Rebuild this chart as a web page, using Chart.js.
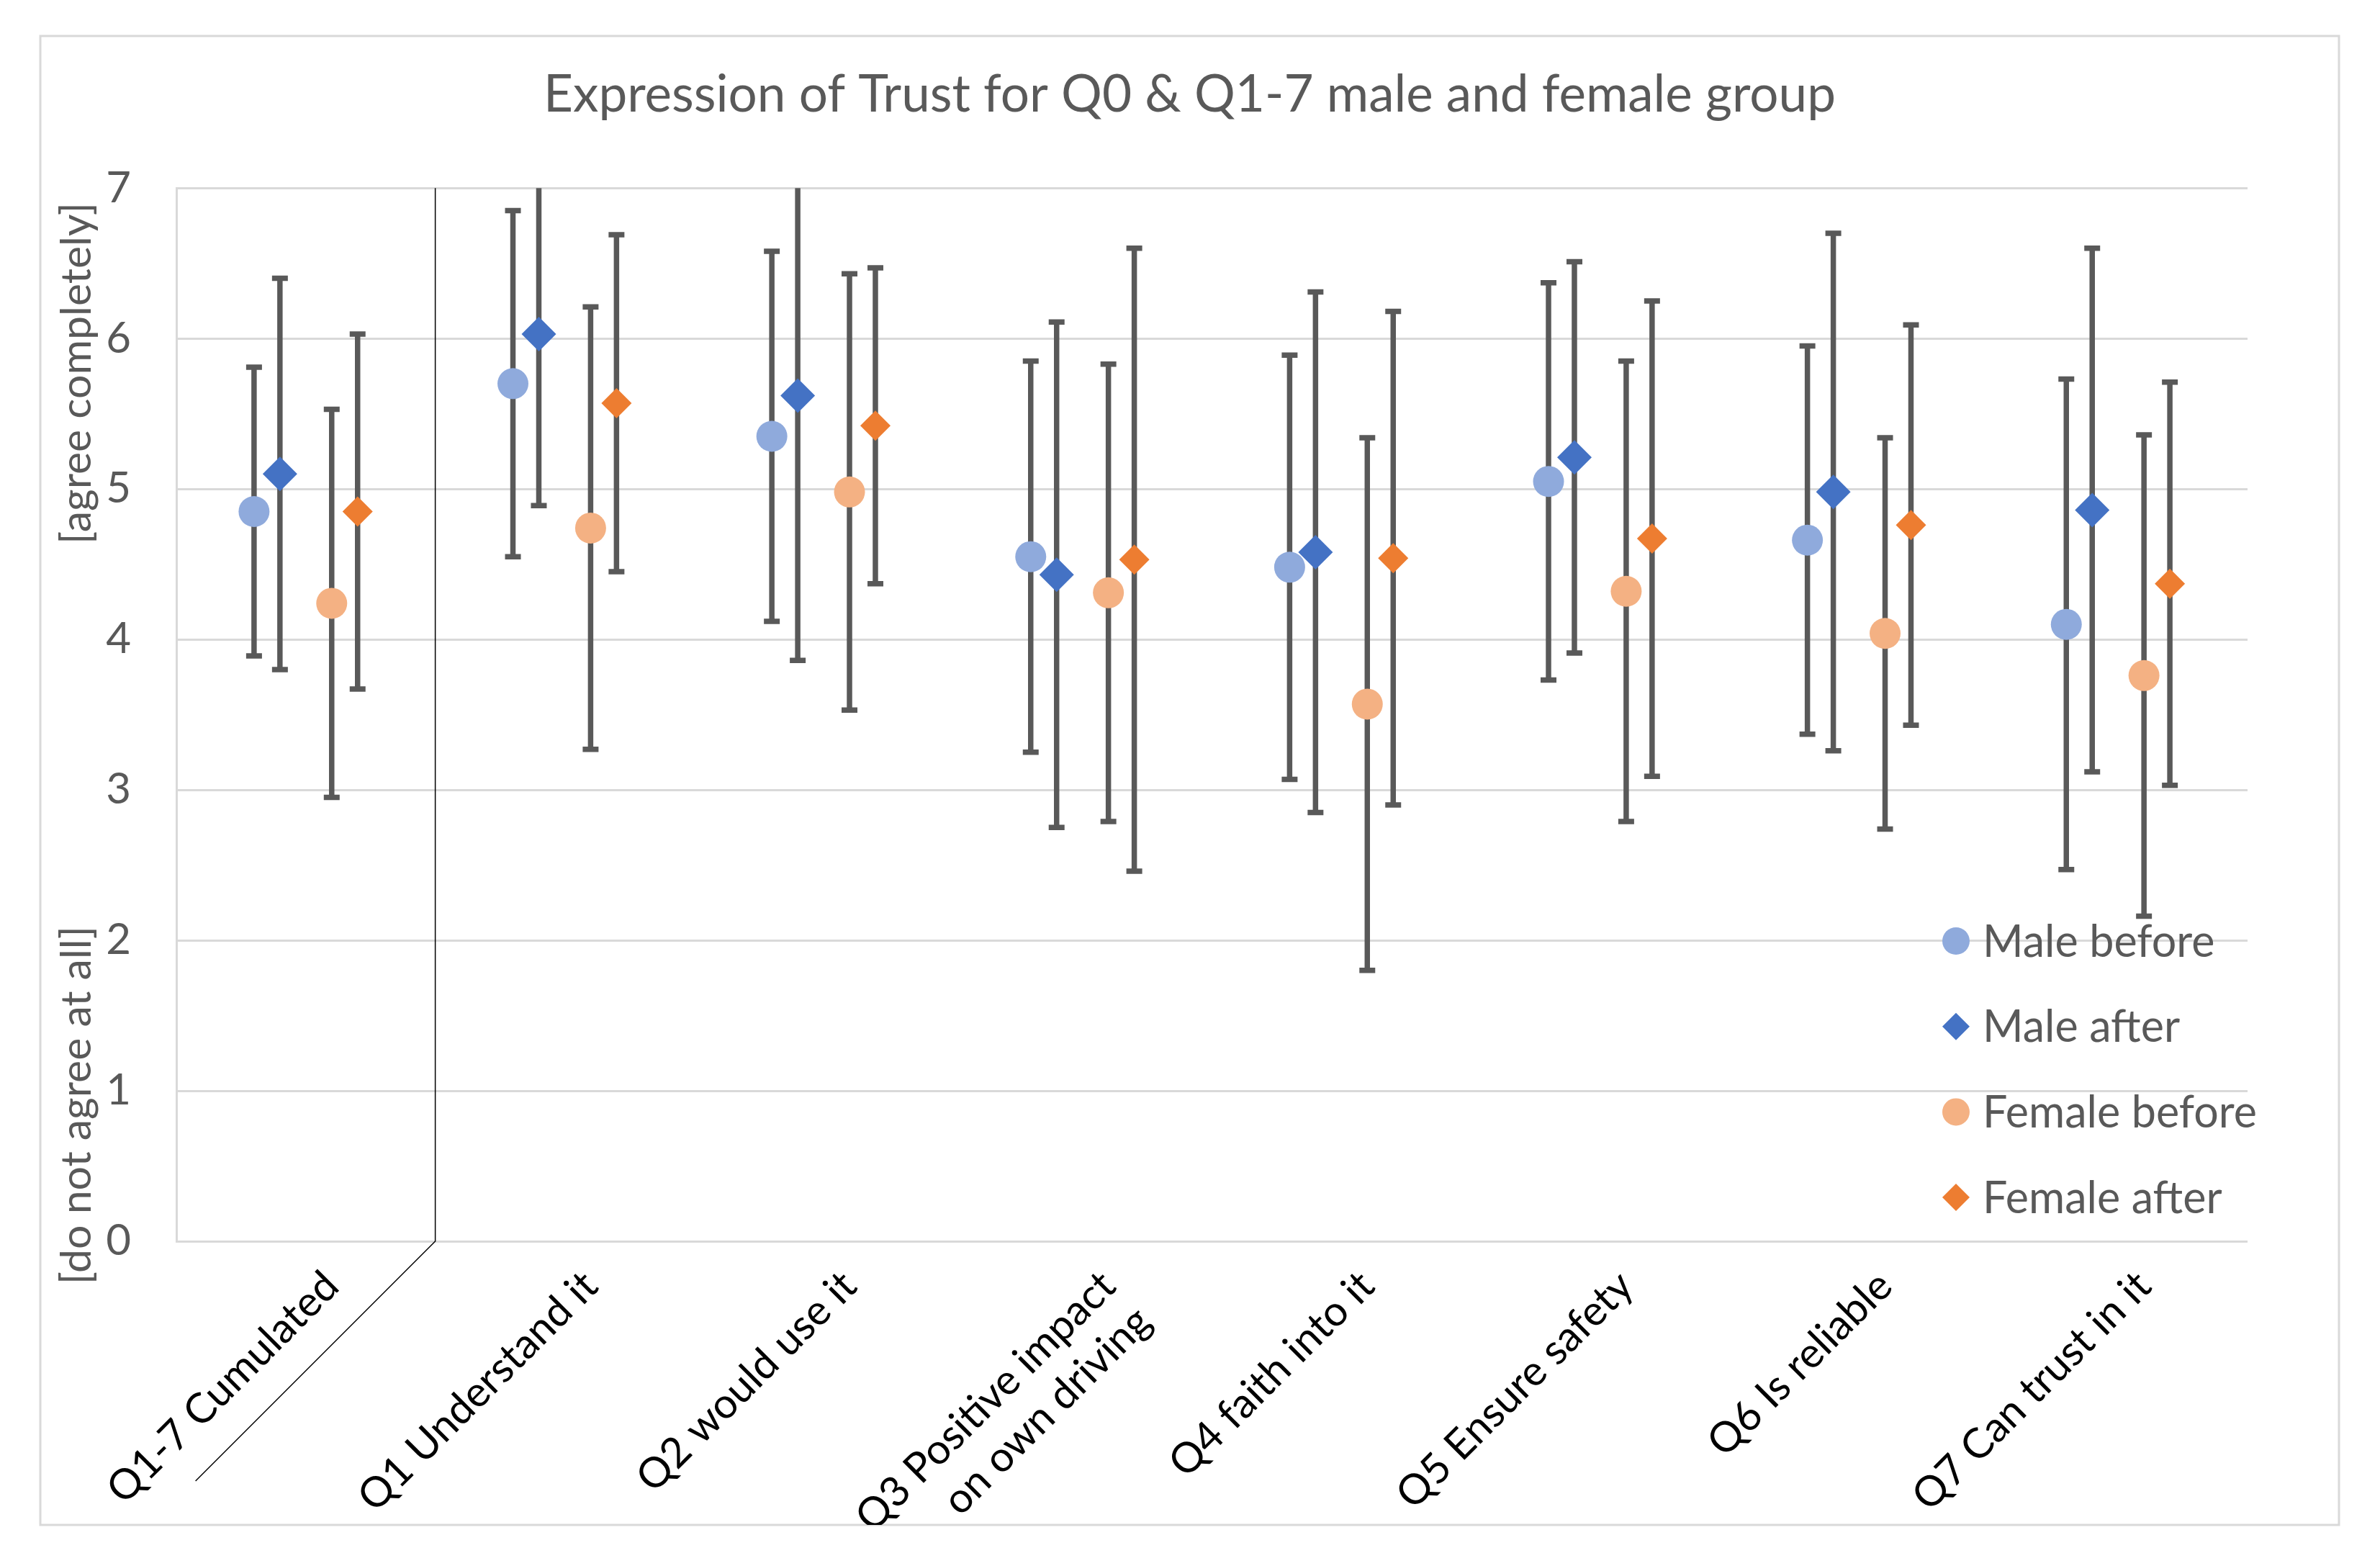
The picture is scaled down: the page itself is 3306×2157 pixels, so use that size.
<!DOCTYPE html>
<html>
<head>
<meta charset="utf-8">
<script src="https://cdn.jsdelivr.net/npm/chart.js@4.4.1/dist/chart.umd.min.js"></script>
<style>
  html, body { margin: 0; padding: 0; background: #ffffff; }
  #wrap { width: 3306px; height: 2157px; position: relative; }
</style>
</head>
<body>
<div id="wrap"><canvas id="trustChart"></canvas></div>
<script>
// Kategorien (Fragen) auf der x-Achse
const questions = [
  'Q1-7 Cumulated',
  'Q1 Understand it',
  'Q2 would use it',
  ['Q3 Positive impact', 'on own driving'],
  'Q4 faith into it',
  'Q5 Ensure safety',
  'Q6 Is reliable',
  'Q7 Can trust in it'
];

// Mittelwerte und Standardabweichungen je Gruppe
const maleBefore     = [4.85, 5.70, 5.35, 4.55, 4.48, 5.05, 4.66, 4.10];
const maleBeforeSd   = [0.96, 1.15, 1.23, 1.30, 1.41, 1.32, 1.29, 1.63];
const maleAfter      = [5.10, 6.03, 5.62, 4.43, 4.58, 5.21, 4.98, 4.86];
const maleAfterSd    = [1.30, 1.14, 1.76, 1.68, 1.73, 1.30, 1.72, 1.74];
const femaleBefore   = [4.24, 4.74, 4.98, 4.31, 3.57, 4.32, 4.04, 3.76];
const femaleBeforeSd = [1.29, 1.47, 1.45, 1.52, 1.77, 1.53, 1.30, 1.60];
const femaleAfter    = [4.85, 5.57, 5.42, 4.53, 4.54, 4.67, 4.76, 4.37];
const femaleAfterSd  = [1.18, 1.12, 1.05, 2.07, 1.64, 1.58, 1.33, 1.34];

const seriesNames = ['Male before', 'Male after', 'Female before', 'Female after'];
const yTicks = [0, 1, 2, 3, 4, 5, 6, 7];

const FONT = 'Lato, "Open Sans", sans-serif';
const GREY = '#595959';
const GRID = '#d9d9d9';

// Versatz jeder Reihe innerhalb einer Kategorie
const seriesOffset = [-0.2, -0.1, 0.1, 0.2];

function makeData(values, k) {
  return values.map((v, i) => ({ x: i + 0.5 + seriesOffset[k], y: v }));
}

const seriesStyle = [
  { color: '#8faadc', style: 'circle', radius: 21.5 },
  { color: '#4472c4', style: 'rectRot', radius: 24 },
  { color: '#f4b183', style: 'circle', radius: 21.5 },
  { color: '#ed7d31', style: 'rectRot', radius: 21 }
];

const seriesValues = [maleBefore, maleAfter, femaleBefore, femaleAfter];
const seriesSd = [maleBeforeSd, maleAfterSd, femaleBeforeSd, femaleAfterSd];

const datasets = seriesValues.map((vals, k) => ({
  label: seriesNames[k],
  data: makeData(vals, k),
  sd: seriesSd[k],
  backgroundColor: seriesStyle[k].color,
  borderColor: seriesStyle[k].color,
  borderWidth: 0,
  pointStyle: seriesStyle[k].style,
  pointRadius: seriesStyle[k].radius,
  showLine: false
}));

// Rahmen um das ganze Diagramm
const outerFrame = {
  id: 'outerFrame',
  beforeDraw(chart) {
    const ctx = chart.ctx;
    ctx.save();
    ctx.strokeStyle = GRID;
    ctx.lineWidth = 3;
    ctx.strokeRect(56, 50, 3193, 2068);
    ctx.restore();
  }
};

// Fehlerbalken (Mittelwert +/- SD)
const errorBars = {
  id: 'errorBars',
  beforeDatasetsDraw(chart) {
    const { ctx, chartArea, scales } = chart;
    ctx.save();
    ctx.beginPath();
    ctx.rect(chartArea.left, chartArea.top, chartArea.width, chartArea.height);
    ctx.clip();
    ctx.strokeStyle = GREY;
    ctx.lineWidth = 7.5;
    chart.data.datasets.forEach(ds => {
      ds.data.forEach((p, i) => {
        const px = scales.x.getPixelForValue(p.x);
        const top = scales.y.getPixelForValue(p.y + ds.sd[i]);
        const bot = scales.y.getPixelForValue(p.y - ds.sd[i]);
        ctx.beginPath();
        ctx.moveTo(px, top);
        ctx.lineTo(px, bot);
        ctx.moveTo(px - 11, top);
        ctx.lineTo(px + 11, top);
        ctx.moveTo(px - 11, bot);
        ctx.lineTo(px + 11, bot);
        ctx.stroke();
      });
    });
    ctx.restore();
  }
};

// Trennlinie zwischen Q1-7 und den Einzelfragen, Achsentitel, Legende
const extras = {
  id: 'extras',
  afterDraw(chart) {
    const { ctx, chartArea, scales } = chart;
    ctx.save();

    // Trennlinie
    const xd = scales.x.getPixelForValue(1);
    ctx.strokeStyle = '#000000';
    ctx.lineWidth = 1.5;
    ctx.beginPath();
    ctx.moveTo(xd, chartArea.top);
    ctx.lineTo(xd, chartArea.bottom);
    ctx.lineTo(xd - 333, chartArea.bottom + 333);
    ctx.stroke();

    // y-Achsentitel (zwei Teile)
    ctx.fillStyle = GREY;
    ctx.font = '59px ' + FONT;
    ctx.textBaseline = 'middle';
    const tx = chartArea.left - 138;
    ctx.save();
    ctx.translate(tx, chartArea.top + 20);
    ctx.rotate(-Math.PI / 2);
    ctx.textAlign = 'right';
    ctx.fillText('[agree completely]', 0, 0);
    ctx.restore();
    ctx.save();
    ctx.translate(tx, chartArea.bottom + 60);
    ctx.rotate(-Math.PI / 2);
    ctx.textAlign = 'left';
    ctx.fillText('[do not agree at all]', 0, 0);
    ctx.restore();

    // Legende im Plotbereich
    ctx.font = '61px ' + FONT;
    const lx = chartArea.right - 405;
    const ly = chartArea.bottom - 417;
    chart.data.datasets.forEach((ds, k) => {
      const cy = ly + k * 118.7;
      ctx.fillStyle = ds.backgroundColor;
      ctx.beginPath();
      if (ds.pointStyle === 'circle') {
        ctx.arc(lx, cy, 19, 0, Math.PI * 2);
      } else {
        ctx.moveTo(lx - 19, cy);
        ctx.lineTo(lx, cy - 19);
        ctx.lineTo(lx + 19, cy);
        ctx.lineTo(lx, cy + 19);
        ctx.closePath();
      }
      ctx.fill();
      ctx.fillStyle = GREY;
      ctx.textAlign = 'left';
      ctx.fillText(ds.label, lx + 37, cy + 2);
    });
    ctx.restore();
  }
};

new Chart(document.getElementById('trustChart'), {
  type: 'scatter',
  data: { datasets: datasets },
  options: {
    responsive: true,
    maintainAspectRatio: false,
    devicePixelRatio: 1,
    animation: false,
    events: [],
    layout: { padding: { left: 56, right: 57, top: 50, bottom: 39 } },
    plugins: {
      legend: { display: false },
      tooltip: { enabled: false },
      title: {
        display: true,
        text: 'Expression of Trust for Q0 & Q1-7 male and female group',
        color: GREY,
        font: { family: FONT, size: 71, weight: 'normal' },
        padding: { top: 40, bottom: 86 }
      }
    },
    scales: {
      x: {
        type: 'linear',
        min: 0,
        max: 8,
        afterBuildTicks: axis => {
          axis.ticks = questions.map((q, i) => ({ value: i + 0.5 }));
        },
        afterFit: axis => { axis.height = 394; },
        grid: { display: false },
        border: { display: false },
        ticks: {
          autoSkip: false,
          minRotation: 45,
          maxRotation: 45,
          padding: 20,
          labelOffset: 36,
          color: '#000000',
          font: { family: FONT, size: 58 },
          callback: value => questions[Math.floor(value)]
        }
      },
      y: {
        min: 0,
        max: 7,
        afterBuildTicks: axis => {
          axis.ticks = yTicks.map(v => ({ value: v }));
        },
        afterFit: axis => { axis.width = 189; },
        grid: { color: GRID, lineWidth: 3, drawTicks: false },
        border: { display: true, color: GRID, width: 3 },
        ticks: {
          padding: 63,
          color: GREY,
          font: { family: FONT, size: 60 }
        }
      },
      yRight: {
        position: 'right',
        display: true,
        grid: { display: false },
        border: { display: false },
        ticks: { display: false },
        afterFit: axis => { axis.width = 127; }
      }
    }
  },
  plugins: [outerFrame, errorBars, extras]
});
</script>
</body>
</html>
